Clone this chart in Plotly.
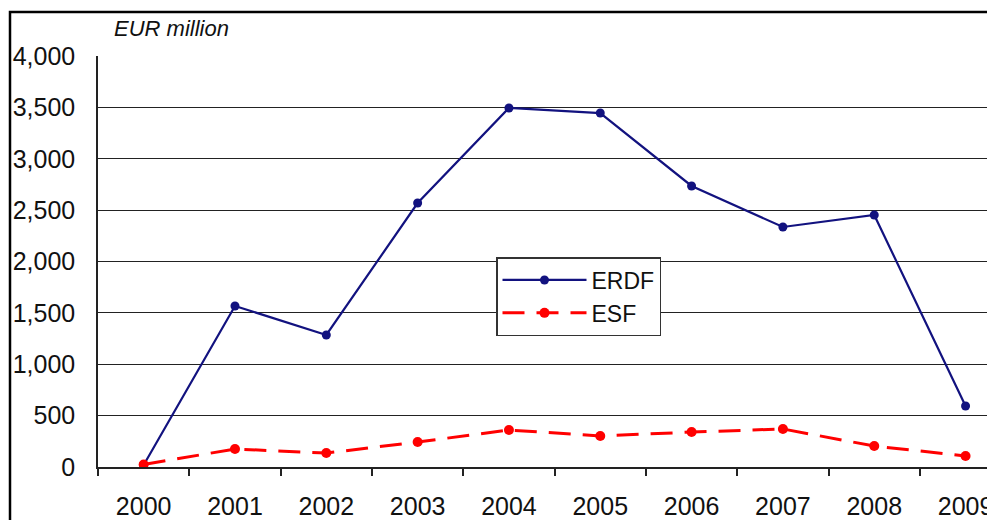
import plotly.graph_objects as go

years = ["2000", "2001", "2002", "2003", "2004", "2005", "2006", "2007", "2008", "2009"]
erdf = [20, 1567, 1285, 2569, 3494, 3445, 2735, 2336, 2453, 594]
esf = [25, 175, 136, 243, 360, 302, 340, 370, 204, 107]
y_ticks = [0, 500, 1000, 1500, 2000, 2500, 3000, 3500, 4000]
y_labels = ["0", "500", "1,000", "1,500", "2,000", "2,500", "3,000", "3,500", "4,000"]

fig = go.Figure()
fig.add_trace(go.Scatter(
    x=years, y=erdf, name="ERDF", mode="lines+markers",
    line=dict(color="#12127f", width=2.2),
    marker=dict(color="#12127f", size=9),
))
fig.add_trace(go.Scatter(
    x=years, y=esf, name="ESF", mode="lines+markers",
    line=dict(color="#ff0000", width=3, dash="22px,12px"),
    marker=dict(color="#ff0000", size=10),
))

# page body has an 8px margin, so figure coords = screen coords - 8
W, H = 995, 520
L, T = 90, 48
plot_bottom = 459
B = H - plot_bottom
R = 0
pw, ph = W - L - R, plot_bottom - T

fig.update_layout(
    width=W, height=H,
    margin=dict(l=L, r=R, t=T, b=B),
    paper_bgcolor="white", plot_bgcolor="white",
    font=dict(family="Liberation Sans, Arial, sans-serif", size=25, color="#111111"),
    showlegend=True,
    legend=dict(
        x=(488 - L) / pw, y=(plot_bottom - 249) / ph, xanchor="left", yanchor="top",
        bordercolor="#333333", borderwidth=1.5, bgcolor="white",
        font=dict(size=23, color="#111111"),
        itemwidth=84,
    ),
    xaxis=dict(
        type="category", range=[-0.5, 9.41],
        showline=True, linecolor="#222222", linewidth=1.5,
        ticks="outside", ticklen=7, tickcolor="#222222", tickwidth=1.5,
        tickson="boundaries", showgrid=False, ticklabelstandoff=16,
        tickfont=dict(size=25),
    ),
    yaxis=dict(
        range=[0, 4000], tickvals=y_ticks, ticktext=y_labels,
        showline=True, linecolor="#222222", linewidth=1.5,
        showgrid=True, gridcolor="#222222", gridwidth=1,
        ticks="", ticklabelstandoff=16, zeroline=False,
        tickfont=dict(size=25),
    ),
    shapes=[dict(
        type="rect", xref="paper", yref="paper",
        x0=(2 - L) / pw, x1=1.2, y0=-0.3, y1=(plot_bottom - 4) / ph,
        line=dict(color="black", width=2.5), fillcolor="rgba(0,0,0,0)", layer="above",
    )],
    annotations=[dict(
        text="<i>EUR million</i>", xref="paper", yref="paper",
        x=(104 - L) / pw, y=(plot_bottom - 21) / ph, xanchor="left", yanchor="middle",
        showarrow=False, font=dict(size=22, color="#111111"),
    )],
)

fig.write_html("out.html")
